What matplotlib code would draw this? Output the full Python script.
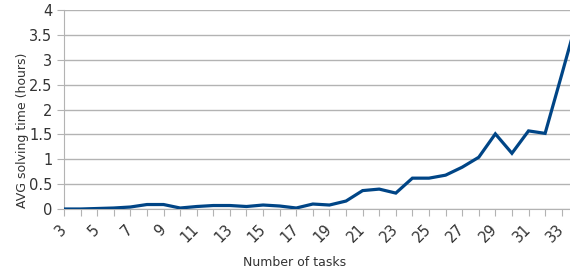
import numpy as np
import matplotlib.pyplot as plt

tasks = list(range(3, 35))
avg_hours = [0.0, 0.0, 0.01, 0.02, 0.04, 0.09, 0.09, 0.02, 0.05, 0.07,
             0.07, 0.05, 0.08, 0.06, 0.02, 0.10, 0.08, 0.16, 0.37, 0.40,
             0.32, 0.62, 0.62, 0.68, 0.84, 1.04, 1.51, 1.12, 1.57, 1.52,
             2.70, 3.90]
tick_labels = [str(t) for t in range(3, 34, 2)]

fig = plt.figure(figsize=(5.7, 2.73), dpi=100)
ax = fig.add_axes([64 / 570, 1 - 209 / 273, 1 - 64 / 570, 199 / 273])

ax.plot(tasks, avg_hours, color='#004586', lw=2.3, solid_joinstyle='miter', zorder=3)

ax.set_xlim(3, 33.5)
ax.set_ylim(0, 4)
ax.set_yticks(np.arange(0, 4.01, 0.5))
ax.set_yticklabels(['0', '0.5', '1', '1.5', '2', '2.5', '3', '3.5', '4'])
ax.set_xticks(range(3, 34))
ax.set_xticklabels([str(t) if str(t) in tick_labels else '' for t in range(3, 34)],
                   rotation=45, ha='right', va='center', rotation_mode='anchor')

ax.grid(axis='y', color='#b3b3b3', lw=1)
ax.set_axisbelow(True)
for s in ['top', 'right']:
    ax.spines[s].set_visible(False)
for s in ['left', 'bottom']:
    ax.spines[s].set_color('#b3b3b3')
ax.tick_params(axis='both', colors='#b3b3b3', labelcolor='#333333', labelsize=10.5, length=5)
ax.tick_params(axis='x', pad=8)

fig.text(295 / 570, 1 - 263 / 273, 'Number of tasks', fontsize=9, color='#333333',
         ha='center', va='center')
fig.text(23 / 570, 1 - 130 / 273, 'AVG solving time (hours)', fontsize=9, color='#333333',
         ha='center', va='center', rotation=90)

fig.savefig('out.png')
